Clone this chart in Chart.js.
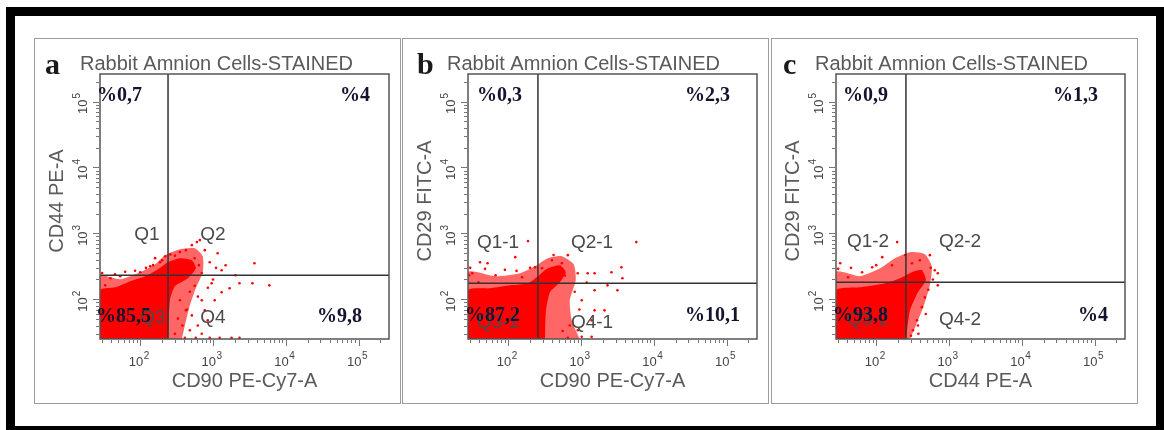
<!DOCTYPE html>
<html>
<head>
<meta charset="utf-8">
<script src="https://cdn.jsdelivr.net/npm/chart.js@4.4.0/dist/chart.umd.min.js"></script>
<style>
  html, body { margin: 0; padding: 0; background: #fff; }
  body { width: 1164px; height: 430px; position: relative; overflow: hidden; }
  #frame { position: absolute; left: 6px; top: 7px; width: 1158px; height: 423px; box-sizing: border-box;
           border-style: solid; border-color: #000; border-width: 9px 8px 4px 9px; }
  .panel { position: absolute; top: 38px; height: 366px; width: 367px; box-sizing: border-box; border: 1.5px solid #9c9c9c; }
  canvas { position: absolute; top: 40px; }
</style>
</head>
<body>
<div id="frame"></div>
<div class="panel" style="left:34px"></div>
<div class="panel" style="left:402px"></div>
<div class="panel" style="left:771px"></div>
<canvas id="ca" width="364" height="362" style="left:36px"></canvas>
<canvas id="cb" width="364" height="362" style="left:404px"></canvas>
<canvas id="cc" width="364" height="362" style="left:772px"></canvas>
<script>
// axes (log, FACS style)
const X_MIN = 28;
const Y_MIN = 25;
const AXIS_MAX = 262144;
const DECADES = [2, 3, 4, 5];
const TITLE = 'Rabbit Amnion Cells-STAINED';

// --- panel a : CD90 x CD44
const xTitleA = 'CD90 PE-Cy7-A';
const yTitleA = 'CD44 PE-A';
const gateA = [241, 232];
const quadA = ['Q1', 'Q2', 'Q3', 'Q4'];
const pctA = ['%0,7', '%4', '%85,5', '%9,8'];
const haloA = [[28,25],[28,224],[53,202],[100,258],[160,341],[219,468],[351,577],[562,597],[723,451],
               [723,258],[580,147],[481,81],[411,40],[374,25]];
const coreA = [[28,25],[28,137],[46,152],[73,188],[117,224],[176,286],[241,365],[351,421],[512,392],
               [580,296],[452,209],[300,158],[256,97],[241,25]];
const dotsA = [[512,664],[600,738],[424,557],[771,557],[1159,501],[902,365],[1315,276],[3706,353],[3483,175],
               [5943,163],[2312,175],[2042,232],[1690,147],[1315,128],[1055,97],[771,68],[618,40],[481,34],
               [902,26],[1234,26],[1799,26],[2312,26],[580,26],[411,26],[300,30],[847,48],[701,97],[959,175],
               [1489,329],[187,365],[137,318],[100,258],[53,224],[39,209],[33,163],[73,163],[160,421],[351,97],
               [424,68],[330,51],[512,57],[659,791],[220,450],[260,480],[350,520],[560,420],[640,330],[700,250],
               [560,160],[480,130],[620,110],[440,70],[380,40],[700,30],[850,150],[1000,200],[1100,300],
               [30,250],[45,240],[62,262],[85,272],[120,300],[150,330],[200,390],[300,460]];

// --- panel b : CD90 x CD29
const xTitleB = 'CD90 PE-Cy7-A';
const yTitleB = 'CD29 FITC-A';
const gateB = [256, 175];
const quadB = ['Q1-1', 'Q2-1', 'Q3-1', 'Q4-1'];
const pctB = ['%0,3', '%2,3', '%87,2', '%10,1'];
const haloB = [[28,25],[28,258],[67,224],[146,249],[233,318],[351,421],[546,451],[794,341],[847,195],
               [701,97],[746,48],[959,25]];
const coreB = [[28,25],[28,137],[57,147],[107,163],[187,175],[256,224],[351,296],[512,329],[618,258],
               [512,182],[374,128],[330,68],[320,25]];
const dotsB = [[187,764],[5754,738],[41,365],[52,353],[125,436],[659,468],[546,353],[902,249],[1234,249],
               [1538,249],[2624,258],[3589,307],[3706,209],[3165,137],[2104,68],[1538,68],[1023,97],[1400,48],
               [902,34],[1400,27],[1023,27],[659,26],[29,232],[32,249],[39,182],[67,232],[155,216],[233,307],
               [398,392],[291,296],[1538,137],[2312,163],[820,130],[950,70],[1200,180],[700,40],[560,33],
               [480,300],[600,230],[30,300],[48,290],[90,280],[130,270],[200,300],[420,470]];

// --- panel c : CD44 x CD29
const xTitleC = 'CD44 PE-A';
const yTitleC = 'CD29 FITC-A';
const gateC = [256, 182];
const quadC = ['Q1-2', 'Q2-2', 'Q3-2', 'Q4-2'];
const pctC = ['%0,9', '%1,3', '%93,8', '%4'];
const haloC = [[28,25],[28,258],[60,224],[113,296],[182,421],[291,519],[466,484],[580,318],[546,163],
               [452,81],[351,40],[291,25]];
const coreC = [[28,25],[28,137],[60,152],[133,175],[212,209],[310,258],[424,276],[481,195],[374,128],
               [291,68],[256,25]];
const dotsC = [[194,738],[546,468],[121,436],[32,353],[64,258],[398,392],[701,249],[701,163],[638,276],
               [363,48],[374,40],[320,34],[466,107],[424,76],[41,216],[88,307],[165,329],[310,353],[438,216],
               [560,300],[520,140],[480,60],[600,200],[300,28],[380,30],[30,290],[45,300],[100,330],[250,470]];

const SANS = '"Liberation Sans", Arial, sans-serif';
const SERIF = '"Liberation Serif", "Times New Roman", serif';

const panels = [
  { id: 'ca', letter: 'a', xTitle: xTitleA, yTitle: yTitleA, gate: gateA, quad: quadA, pct: pctA,
    halo: haloA, core: coreA, dots: dotsA,
    letterDx: -55, titleDx: -20,
    quadPos: [[47,161],[113,161],[53,244],[113,244]],
    pctPos: [[-3,22],[240,22],[-4,243],[217,243]] },
  { id: 'cb', letter: 'b', xTitle: xTitleB, yTitle: yTitleB, gate: gateB, quad: quadB, pct: pctB,
    halo: haloB, core: coreB, dots: dotsB,
    letterDx: -51, titleDx: -21,
    quadPos: [[30,169],[124,169],[30,249],[124,249]],
    pctPos: [[9,22],[217,22],[-3,242],[217,242]] },
  { id: 'cc', letter: 'c', xTitle: xTitleC, yTitle: yTitleC, gate: gateC, quad: quadC, pct: pctC,
    halo: haloC, core: coreC, dots: dotsC,
    letterDx: -53, titleDx: -21,
    quadPos: [[32,168],[124,168],[32,246],[124,246]],
    pctPos: [[7,22],[217,22],[-3,242],[242,242]] },
];

function minorValues(min, max) {
  const out = [];
  for (let n = 1; n <= 5; n++) {
    for (let k = 1; k <= 9; k++) {
      const v = k * Math.pow(10, n);
      if (v >= min && v <= max) out.push({ v, major: k === 1 });
    }
  }
  return out;
}

function makeDecor(p) {
  return {
    id: 'decor',
    afterDatasetsDraw(chart) {
      const { ctx, chartArea: a, scales: { x, y } } = chart;
      ctx.save();
      // gates
      ctx.strokeStyle = '#333';
      ctx.lineWidth = 1.5;
      const gx = x.getPixelForValue(p.gate[0]);
      const gy = y.getPixelForValue(p.gate[1]);
      ctx.beginPath();
      ctx.moveTo(gx, a.top); ctx.lineTo(gx, a.bottom);
      ctx.moveTo(a.left, gy); ctx.lineTo(a.right, gy);
      ctx.stroke();
      // frame of the plot
      ctx.strokeStyle = '#555';
      ctx.strokeRect(a.left, a.top, a.right - a.left, a.bottom - a.top);
      ctx.restore();
    },
    afterDraw(chart) {
      const { ctx, chartArea: a, scales: { x, y } } = chart;
      ctx.save();
      // tick marks
      ctx.strokeStyle = '#777';
      ctx.lineWidth = 1;
      ctx.beginPath();
      minorValues(X_MIN, AXIS_MAX).forEach(t => {
        const px = Math.round(x.getPixelForValue(t.v)) + 0.5;
        ctx.moveTo(px, a.bottom + 1); ctx.lineTo(px, a.bottom + (t.major ? 7 : 4));
      });
      minorValues(Y_MIN, AXIS_MAX).forEach(t => {
        const py = Math.round(y.getPixelForValue(t.v)) + 0.5;
        ctx.moveTo(a.left - 1, py); ctx.lineTo(a.left - (t.major ? 7 : 4), py);
      });
      ctx.stroke();

      // tick labels 10^n
      ctx.fillStyle = '#444';
      ctx.textBaseline = 'alphabetic';
      DECADES.forEach(n => {
        const px = x.getPixelForValue(Math.pow(10, n));
        ctx.font = '13px ' + SANS;
        ctx.textAlign = 'right';
        ctx.fillText('10', px + 3, a.bottom + 27);
        ctx.font = '10px ' + SANS;
        ctx.textAlign = 'left';
        ctx.fillText(String(n), px + 3.5, a.bottom + 20);

        const py = y.getPixelForValue(Math.pow(10, n));
        ctx.save();
        ctx.translate(a.left - 13, py);
        ctx.rotate(-Math.PI / 2);
        ctx.font = '13px ' + SANS;
        ctx.textAlign = 'right';
        ctx.fillText('10', 2, 0);
        ctx.font = '10px ' + SANS;
        ctx.textAlign = 'left';
        ctx.fillText(String(n), 3, -7);
        ctx.restore();
      });

      // axis titles
      ctx.fillStyle = '#5a5a5a';
      ctx.font = '20px ' + SANS;
      ctx.textAlign = 'center';
      ctx.fillText(p.xTitle, (a.left + a.right) / 2, a.bottom + 48);
      ctx.save();
      ctx.translate(a.left - 37, a.top + 127);
      ctx.rotate(-Math.PI / 2);
      ctx.fillText(p.yTitle, 0, 0);
      ctx.restore();

      // panel title and letter
      ctx.textAlign = 'left';
      ctx.fillText(TITLE, a.left + p.titleDx, a.top - 4);
      ctx.fillStyle = '#1a1a1a';
      ctx.font = 'bold 30px ' + SERIF;
      ctx.fillText(p.letter, a.left + p.letterDx, a.top);

      // quadrant names
      ctx.fillStyle = '#4a4a4a';
      ctx.font = '19px ' + SANS;
      ctx.textAlign = 'center';
      ctx.textBaseline = 'middle';
      p.quad.forEach((q, i) => {
        ctx.fillText(q, a.left + p.quadPos[i][0], a.top + p.quadPos[i][1]);
      });

      // percentages
      ctx.fillStyle = '#14142e';
      ctx.font = 'bold 20px ' + SERIF;
      ctx.textAlign = 'left';
      p.pct.forEach((t, i) => {
        ctx.fillText(t, a.left + p.pctPos[i][0], a.top + p.pctPos[i][1]);
      });
      ctx.restore();
    }
  };
}

panels.forEach(p => {
  new Chart(document.getElementById(p.id), {
    type: 'scatter',
    data: {
      datasets: [
        { type: 'line', data: p.halo, fill: 'shape', backgroundColor: 'rgba(255,0,0,0.6)',
          borderWidth: 0, pointRadius: 0, tension: 0.2 },
        { type: 'line', data: p.core, fill: 'shape', backgroundColor: '#ff0000',
          borderWidth: 0, pointRadius: 0, tension: 0.2 },
        { type: 'scatter', data: p.dots, backgroundColor: '#ff0000', borderWidth: 0, pointRadius: 1.3 },
      ],
    },
    options: {
      responsive: false,
      animation: false,
      events: [],
      layout: { padding: { top: 34, right: 11, left: 0, bottom: 0 } },
      plugins: { legend: { display: false }, tooltip: { enabled: false } },
      scales: {
        x: {
          type: 'logarithmic', min: X_MIN, max: AXIS_MAX,
          ticks: { display: false }, grid: { display: false }, border: { display: false },
          afterFit: s => { s.height = 63; },
        },
        y: {
          type: 'logarithmic', min: Y_MIN, max: AXIS_MAX,
          ticks: { display: false }, grid: { display: false }, border: { display: false },
          afterFit: s => { s.width = 64; },
        },
      },
    },
    plugins: [makeDecor(p)],
  });
});
</script>
</body>
</html>
